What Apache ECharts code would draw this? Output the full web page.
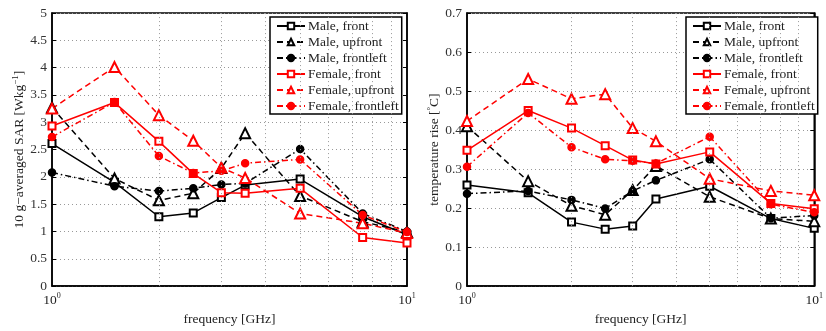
<!DOCTYPE html>
<html>
<head>
<meta charset="utf-8">
<script src="https://cdn.jsdelivr.net/npm/echarts@6/dist/echarts.min.js"></script>
<style>html,body{margin:0;padding:0;background:#fff;}#c{width:826px;height:331px;}</style>
</head>
<body>
<div id="c"></div>
<script>
const freqs = [1, 1.5, 2, 2.5, 3, 3.5, 5, 7.5, 10];
const minorGrid = [2, 3, 4, 5, 6, 7, 8, 9];
const names = ['Male, front', 'Male, upfront', 'Male, frontleft', 'Female, front', 'Female, upfront', 'Female, frontleft'];

// 10 g-averaged SAR [W/kg]
const sarMaleFront      = [2.61, 1.90, 1.27, 1.34, 1.62, 1.85, 1.96, 1.27, 0.94];
const sarMaleUpfront    = [3.27, 1.97, 1.57, 1.70, 2.16, 2.80, 1.65, 1.18, 0.99];
const sarMaleFrontleft  = [2.08, 1.83, 1.74, 1.79, 1.86, 1.88, 2.51, 1.33, 1.00];
const sarFemFront       = [2.93, 3.36, 2.65, 2.06, 1.71, 1.70, 1.79, 0.89, 0.79];
const sarFemUpfront     = [3.25, 4.01, 3.13, 2.66, 2.17, 1.98, 1.33, 1.15, 0.97];
const sarFemFrontleft   = [2.73, 3.37, 2.38, 2.07, 2.11, 2.25, 2.32, 1.30, 0.99];

// temperature rise [deg C]
const tMaleFront     = [0.259, 0.239, 0.164, 0.146, 0.154, 0.223, 0.256, 0.173, 0.148];
const tMaleUpfront   = [0.410, 0.269, 0.206, 0.183, 0.246, 0.308, 0.229, 0.173, 0.166];
const tMaleFrontleft = [0.237, 0.244, 0.221, 0.199, 0.244, 0.271, 0.325, 0.174, 0.181];
const tFemFront      = [0.348, 0.450, 0.405, 0.360, 0.323, 0.313, 0.344, 0.212, 0.198];
const tFemUpfront    = [0.423, 0.531, 0.480, 0.492, 0.405, 0.371, 0.275, 0.244, 0.233];
const tFemFrontleft  = [0.306, 0.444, 0.356, 0.325, 0.321, 0.314, 0.383, 0.210, 0.189];

const sarSets = [sarMaleFront, sarMaleUpfront, sarMaleFrontleft, sarFemFront, sarFemUpfront, sarFemFrontleft];
const tSets = [tMaleFront, tMaleUpfront, tMaleFrontleft, tFemFront, tFemUpfront, tFemFrontleft];

const FONT = 'Liberation Serif';
const styles = [
  {color: '#000', type: 'solid', symbol: 'emptyRect', size: 7},
  {color: '#000', type: [6, 4], symbol: 'emptyTriangle', size: 10},
  {color: '#000', type: [6, 3, 1.5, 3], symbol: 'circle', size: 7},
  {color: '#ff0000', type: 'solid', symbol: 'emptyRect', size: 7},
  {color: '#ff0000', type: [6, 4], symbol: 'emptyTriangle', size: 10},
  {color: '#ff0000', type: [6, 3, 1.5, 3], symbol: 'circle', size: 7}
];

function mkSeries(sets, idx) {
  const out = [];
  out.push({
    type: 'line', xAxisIndex: idx, yAxisIndex: idx * 2, data: [], z: 1, silent: true,
    markLine: {
      silent: true, symbol: 'none', animation: false,
      label: {show: false},
      lineStyle: {type: [1, 3], color: '#999', width: 1},
      data: minorGrid.map(v => ({xAxis: v}))
    }
  });
  sets.forEach((vals, i) => {
    const s = styles[i];
    out.push({
      name: names[i], type: 'line', xAxisIndex: idx, yAxisIndex: idx * 2, z: 3,
      data: freqs.map((f, k) => [f, vals[k]]),
      symbol: s.symbol, symbolSize: s.size, showAllSymbol: true,
      lineStyle: {color: s.color, width: 1.5, type: s.type},
      itemStyle: {color: s.color, borderColor: s.color, borderWidth: 1.5},
      animation: false
    });
  });
  return out;
}

function xAxisDef(gi) {
  return {
    type: 'log', logBase: 10, min: 1, max: 10, gridIndex: gi,
    name: 'frequency [GHz]', nameLocation: 'middle', nameGap: 24,
    nameTextStyle: {fontFamily: FONT, fontSize: 13.5, color: '#222'},
    axisLine: {show: true, lineStyle: {color: '#000', width: 1.5}},
    axisTick: {show: false},
    splitLine: {show: false},
    axisLabel: {
      fontFamily: FONT, fontSize: 13, color: '#222', margin: 6,
      formatter: v => '{b|10}{s|' + Math.round(Math.log10(v)) + '}',
      rich: {b: {fontFamily: FONT, fontSize: 13.5, color: '#222'}, s: {fontFamily: FONT, fontSize: 8, color: '#222', verticalAlign: 'top', padding: [0, 0, 8, 0]}}
    }
  };
}

function yAxisDef(gi, max, interval, name, gap) {
  return {
    type: 'value', min: 0, max: max, interval: interval, gridIndex: gi,
    name: name, nameLocation: 'middle', nameGap: gap, nameRotate: 90, nameMoveOverlap: false,
    nameTextStyle: {fontFamily: FONT, fontSize: 13.5, color: '#222',
      rich: {sup: {fontFamily: FONT, fontSize: 9, color: '#222', verticalAlign: 'top', padding: [0, 0, 8, 0]}, t: {fontFamily: FONT, fontSize: 13.5, color: '#222'}}},
    axisLine: {show: true, lineStyle: {color: '#000', width: 1.5}},
    axisTick: {show: true, inside: true, length: 4, lineStyle: {color: '#000'}},
    axisLabel: {fontFamily: FONT, fontSize: 13.5, color: '#333', margin: 5},
    splitLine: {show: true, lineStyle: {type: [1, 3], color: '#999', width: 1}}
  };
}
function yAxisRight(gi, max, interval) {
  return {
    type: 'value', min: 0, max: max, interval: interval, gridIndex: gi, position: 'right',
    axisLine: {show: true, lineStyle: {color: '#000', width: 1.5}},
    axisTick: {show: true, inside: true, length: 4, lineStyle: {color: '#000'}},
    axisLabel: {show: false}, splitLine: {show: false}
  };
}

function legendDef(left) {
  return {
    data: names, orient: 'vertical', left: left, top: 17,
    itemWidth: 28, itemHeight: 8, itemGap: 2,
    padding: [2, 3, 1, 6],
    backgroundColor: '#fff', borderColor: '#000', borderWidth: 1.5,
    textStyle: {fontFamily: FONT, fontSize: 13.5, lineHeight: 14, color: '#222', padding: [0, 0, 0, -2]},
    selectedMode: false
  };
}

const chart = echarts.init(document.getElementById('c'), null, {renderer: 'canvas'});
chart.setOption({
  backgroundColor: '#fff',
  animation: false,
  grid: [
    {left: 52, top: 13, width: 355, height: 279, show: true, borderColor: '#000', borderWidth: 1.5, backgroundColor: 'transparent'},
    {left: 467, top: 13, width: 356, height: 279, show: true, borderColor: '#000', borderWidth: 1.5, backgroundColor: 'transparent'}
  ],
  xAxis: [xAxisDef(0), xAxisDef(1)],
  yAxis: [
    yAxisDef(0, 5, 0.5, '{t|10 g\u2212averaged SAR [Wkg}{sup|\u22121}{t|]}', 24),
    yAxisRight(0, 5, 0.5),
    yAxisDef(1, 0.7, 0.1, '{t|temperature rise [}{sup|\u00b0}{t|C]}', 24),
    yAxisRight(1, 0.7, 0.1)
  ],
  legend: [legendDef(270), legendDef(686)],
  series: mkSeries(sarSets, 0).concat(mkSeries(tSets, 1))
});
</script>
</body>
</html>
